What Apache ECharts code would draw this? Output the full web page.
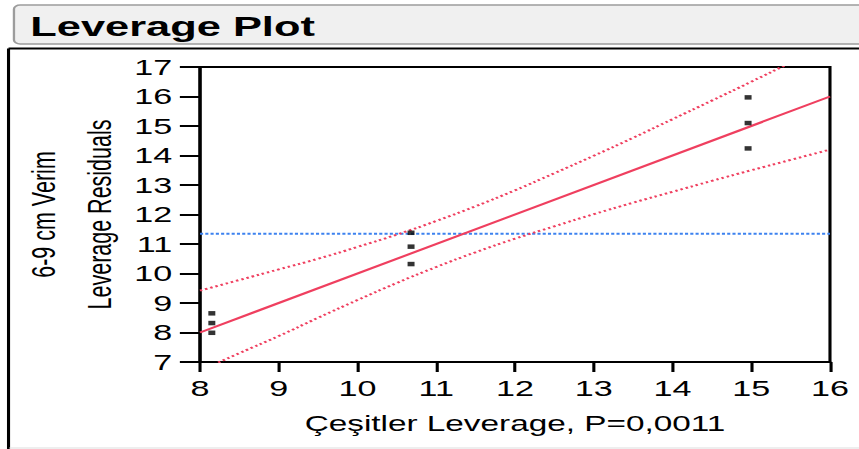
<!DOCTYPE html>
<html>
<head>
<meta charset="utf-8">
<script src="https://cdn.jsdelivr.net/npm/echarts@6/dist/echarts.min.js"></script>
<style>
  html, body { margin: 0; padding: 0; background: #fff; overflow: hidden; }
  /* the original picture is a horizontally stretched screenshot */
  #main { width: 554px; height: 449px; transform: scaleX(1.5505); transform-origin: 0 0; }
</style>
</head>
<body>
<div id="main"></div>
<script>
// data
let xTicks = [8, 9, 10, 11, 12, 13, 14, 15, 16];
let yTicks = [7, 8, 9, 10, 11, 12, 13, 14, 15, 16, 17];

let ptX = [8.15, 8.15, 8.15, 10.68, 10.68, 10.68, 14.96, 14.96, 14.96];
let ptY = [8.65, 8.32, 7.99, 11.38, 10.91, 10.32, 15.97, 15.10, 14.24];

let fitX = [8, 16];
let fitY = [8, 16];

let meanX = [8, 16];
let meanY = [11.35, 11.35];

let bandX = [8, 8.5, 9, 9.5, 10, 10.5, 11, 11.5, 12, 12.5, 13, 13.5, 14, 14.5, 15, 15.5, 16];
let upper = [9.42, 9.78, 10.14, 10.5, 10.9, 11.32, 11.78, 12.28, 12.82, 13.4, 13.99, 14.6, 15.23, 15.86, 16.5, 17.15, 17.8];
let lower = [6.7, 7.3, 7.88, 8.5, 9.1, 9.68, 10.22, 10.72, 11.18, 11.6, 12.01, 12.4, 12.77, 13.14, 13.5, 13.85, 14.2];

let red = '#ef3f5f';
let blue = '#3d82ef';
let font = '"Liberation Sans", Arial, sans-serif';

function pairs(xs, ys) {
    return xs.map((x, i) => [x, ys[i]]);
}

let myChart = echarts.init(document.getElementById('main'), null, { renderer: 'svg' });

myChart.setOption({
    animation: false,
    graphic: [
        // header box
        {
            type: 'rect',
            shape: { x: 9, y: 5, width: 600, height: 39, r: 4 },
            style: { fill: '#f0f0f0', stroke: '#9c9c9c', lineWidth: 1.5 }
        },
        {
            type: 'text',
            left: 19.5,
            top: 12,
            style: { text: 'Leverage Plot', font: 'bold 28px ' + font, fill: '#000' }
        },
        // outer frame
        {
            type: 'line',
            shape: { x1: 5.5, y1: 48.5, x2: 600, y2: 48.5 },
            style: { stroke: '#000', lineWidth: 2 }
        },
        {
            type: 'line',
            shape: { x1: 5.5, y1: 48.5, x2: 5.5, y2: 449 },
            style: { stroke: '#000', lineWidth: 2 }
        },
        {
            type: 'line',
            shape: { x1: 6, y1: 448, x2: 600, y2: 448 },
            style: { stroke: '#dddddd', lineWidth: 1 }
        }
    ],
    grid: {
        left: 129,
        right: 18.7,
        top: 67,
        bottom: 87,
        outerBoundsMode: 'none',
        show: true,
        borderColor: '#000',
        borderWidth: 2
    },
    xAxis: {
        type: 'value',
        min: xTicks[0],
        max: xTicks[xTicks.length - 1],
        interval: 1,
        name: 'Çeşitler Leverage, P=0,0011',
        nameLocation: 'middle',
        nameGap: 51,
        nameMoveOverlap: false,
        nameTextStyle: { fontFamily: font, fontSize: 21.5, color: '#000' },
        axisLine: { onZero: false, lineStyle: { color: '#000', width: 2 } },
        axisTick: { length: 10, lineStyle: { color: '#000', width: 2 } },
        axisLabel: { margin: 15, fontFamily: font, fontSize: 22, color: '#000' },
        splitLine: { show: false }
    },
    yAxis: {
        type: 'value',
        min: yTicks[0],
        max: yTicks[yTicks.length - 1],
        interval: 1,
        name: '6-9 cm Verim\nLeverage Residuals',
        nameLocation: 'middle',
        nameGap: 46.5,
        nameMoveOverlap: false,
        nameTextStyle: { fontFamily: font, fontSize: 21.5, color: '#000', lineHeight: 36 },
        axisLine: { onZero: false, lineStyle: { color: '#000', width: 2 } },
        axisTick: { length: 13, lineStyle: { color: '#000', width: 2 } },
        axisLabel: { margin: 18, fontFamily: font, fontSize: 22, color: '#000' },
        splitLine: { show: false }
    },
    series: [
        {
            name: 'mean',
            type: 'line',
            data: pairs(meanX, meanY),
            symbol: 'none',
            lineStyle: { color: blue, width: 2, type: [2, 1.4] }
        },
        {
            name: 'upper',
            type: 'line',
            data: pairs(bandX, upper),
            symbol: 'none',
            smooth: true,
            lineStyle: { color: red, width: 2, type: [1.6, 2] }
        },
        {
            name: 'lower',
            type: 'line',
            data: pairs(bandX, lower),
            symbol: 'none',
            smooth: true,
            lineStyle: { color: red, width: 2, type: [1.6, 2] }
        },
        {
            name: 'fit',
            type: 'line',
            data: pairs(fitX, fitY),
            symbol: 'none',
            lineStyle: { color: red, width: 2 }
        },
        {
            name: 'points',
            type: 'scatter',
            data: pairs(ptX, ptY),
            symbol: 'rect',
            symbolSize: [4.5, 4.5],
            itemStyle: { color: '#000' },
            z: 5
        }
    ]
});
</script>
</body>
</html>
